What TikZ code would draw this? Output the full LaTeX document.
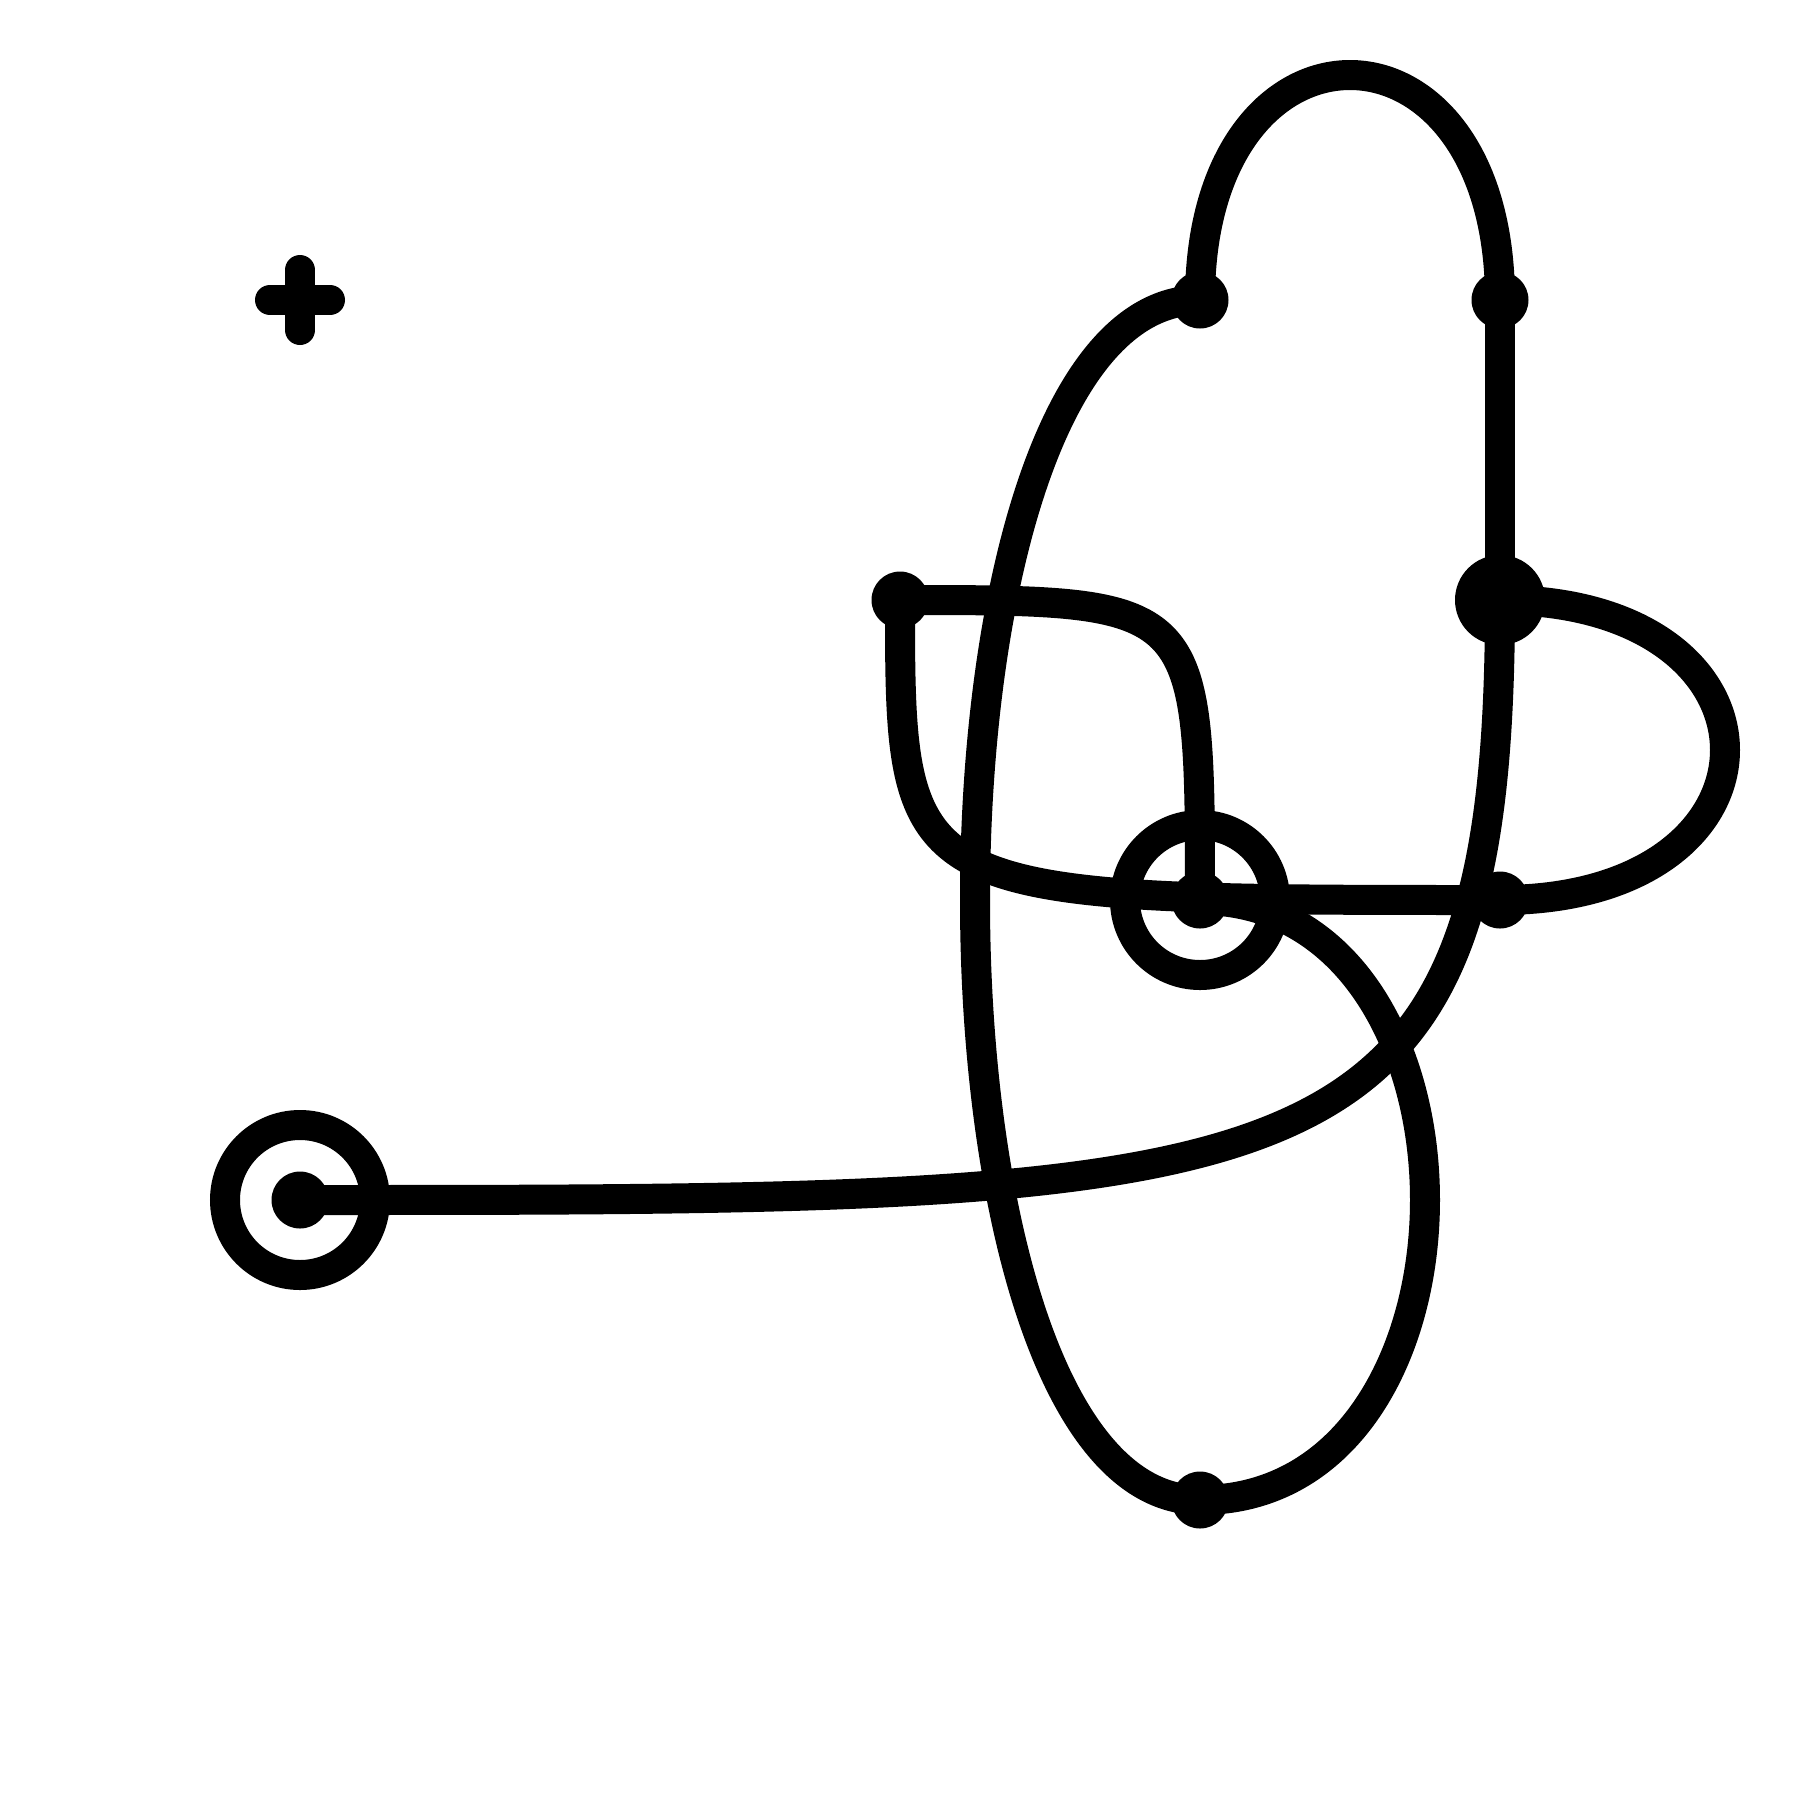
\documentclass[tikz,border=0pt]{standalone}
\begin{document}
\begin{tikzpicture}[x=1cm,y=-1cm,
  dot/.style={circle,fill=black,inner sep=0pt,minimum size=1.9mm},
  bigdot/.style={circle,fill=black,inner sep=0pt,minimum size=3mm},
  ring/.style={circle,draw=black,line width=1mm,inner sep=0pt,minimum size=5mm},
  wire/.style={draw=black,line width=1mm}]
\useasboundingbox (0,0) rectangle (6,6);
\node[ring] (r1) at (1,4) {};
\node[ring] (r2) at (4,3) {};
\node[dot] (a) at (1,4) {};
\node[dot] (b) at (3,2) {};
\node[dot] (c) at (4,1) {};
\node[dot] (d) at (5,1) {};
\node[bigdot] (e) at (5,2) {};
\node[dot] (f) at (4,3) {};
\node[dot] (g) at (5,3) {};
\node[dot] (h) at (4,5) {};
\coordinate (p) at (1,1);
\draw[wire] (c.center) .. controls (4,0) and (5,0) .. (d.center);
\draw[wire] (d.center) -- (e.center);
\draw[wire] (e.center) .. controls (6,2) and (6,3) .. (g.center);
\draw[wire] (e.center) .. controls (5,4) and (4.4,4) .. (a.center);
\draw[wire] (c.center) .. controls (3,1) and (3,5) .. (h.center);
\draw[wire] (h.center) .. controls (5,5) and (5,3) .. (f.center);
\draw[wire] (b.center) .. controls (4,2) and (4,2) .. (f.center);
\draw[wire] (b.center) .. controls (3,3) and (3,3) .. (g.center);
\draw[wire,line cap=round] ([xshift=-1mm]p) -- ([xshift=1mm]p);
\draw[wire,line cap=round] ([yshift=-1mm]p) -- ([yshift=1mm]p);
\end{tikzpicture}
\end{document}
